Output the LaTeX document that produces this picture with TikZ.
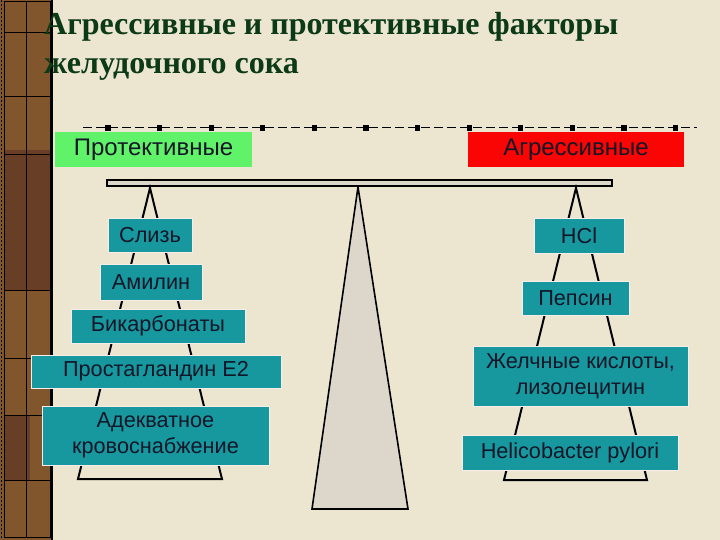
\documentclass[tikz,border=0pt]{standalone}
\usepackage{fontspec}
\setmainfont{Liberation Sans}
\newfontfamily\titlefont{Liberation Serif}
\definecolor{paper}{RGB}{236,229,208}
\definecolor{strip}{RGB}{130,86,44}
\definecolor{stripdark}{RGB}{104,62,38}
\definecolor{titlegreen}{RGB}{12,58,22}
\definecolor{boxteal}{RGB}{22,152,158}
\definecolor{protgreen}{RGB}{96,242,104}
\definecolor{aggred}{RGB}{250,4,4}
\definecolor{fulcrum}{RGB}{221,215,203}
\definecolor{ink}{RGB}{18,22,40}
\definecolor{halo}{RGB}{246,236,232}

\begin{document}
\begin{tikzpicture}[x=1pt, y=-1pt,
  factor/.style={fill=boxteal, draw=halo, line width=1pt, text=ink, inner sep=0pt, align=center, font=\fontsize{21.7}{26}\selectfont},
  side/.style={text=ink, inner sep=0pt, minimum height=35pt, font=\fontsize{24}{28}\selectfont},
  pan/.style={line width=2pt}]
\useasboundingbox (0,0) rectangle (720,540);
\fill[paper] (0,0) rectangle (720,540);
\fill[strip] (0,0) rectangle (52,540);
\fill[stripdark] (4,150) rectangle (50,290);
\fill[stripdark] (4,415) rectangle (30,480);
\draw[line width=0.8pt, dash pattern=on 2pt off 2pt] (1,0) -- (1,540);
\draw[line width=1pt] (4,2) rectangle (50,537);
\draw[line width=0.8pt] (26,2) -- (26,537);
\draw[line width=1.6pt] (52,0) -- (52,540);
\draw[line width=0.8pt] (4,32) -- (50,32);
\draw[line width=0.8pt] (4,96) -- (50,96);
\draw[line width=0.8pt] (4,154) -- (50,154);
\draw[line width=0.8pt] (4,290) -- (50,290);
\draw[line width=0.8pt] (4,358) -- (50,358);
\draw[line width=0.8pt] (4,415) -- (50,415);
\draw[line width=0.8pt] (4,480) -- (50,480);
\node[anchor=base west, inner sep=0pt, align=left, text=titlegreen, font=\titlefont\bfseries\fontsize{32}{39}\selectfont] (title) at (44,74) {Агрессивные и протективные факторы\\желудочного сока};
\draw[line width=1pt, dash pattern=on 9pt off 4pt] (83,128) -- (697,128);
\foreach \i in {0,...,11}
  \fill ({108+51.6*\i},128) +(-2.6,-2.6) rectangle +(2.6,2.6);
\node[side, fill=protgreen, minimum width=197pt] (prot) at (153.5,149.5) {Протективные};
\node[side, fill=aggred, minimum width=216pt] (aggr) at (576,149.5) {Агрессивные};
\draw[fill=fulcrum, line width=1.6pt] (358,187) -- (408,509) -- (312,509) -- cycle;
\draw[fill=fulcrum, line width=1.6pt] (107,180) rectangle (612,186);
\coordinate (ltop) at (150,188);
\coordinate (lleft) at (78,479);
\coordinate (lright) at (222,479);
\coordinate (rtop) at (576,188);
\coordinate (rleft) at (504,480);
\coordinate (rright) at (647,480);
\draw[pan] (lleft) -- (ltop) -- (lright) -- cycle;
\draw[pan] (rleft) -- (rtop) -- (rright) -- cycle;
\node[factor, minimum width=84pt, minimum height=33pt] (slime) at (150,235.5) {Слизь};
\node[factor, minimum width=102pt, minimum height=36pt] (amylin) at (151,282) {Амилин};
\node[factor, minimum width=174pt, minimum height=34pt] (bicarb) at (158,326) {Бикарбонаты};
\node[factor, minimum width=250pt, minimum height=33pt] (prost) at (156,371.5) {Простагландин E2};
\node[factor, minimum width=227pt, minimum height=59pt] (blood) at (155.5,435.5) {Адекватное\\кровоснабжение};
\node[factor, minimum width=90pt, minimum height=34pt] (hcl) at (579,236) {HCl};
\node[factor, minimum width=107pt, minimum height=34pt] (pepsin) at (575.5,298) {Пепсин};
\node[factor, minimum width=215pt, minimum height=60pt] (bile) at (580.5,376) {Желчные кислоты,\\лизолецитин};
\node[factor, minimum width=216pt, minimum height=35pt] (hp) at (570,452.5) {Helicobacter pylori};
\end{tikzpicture}
\end{document}
